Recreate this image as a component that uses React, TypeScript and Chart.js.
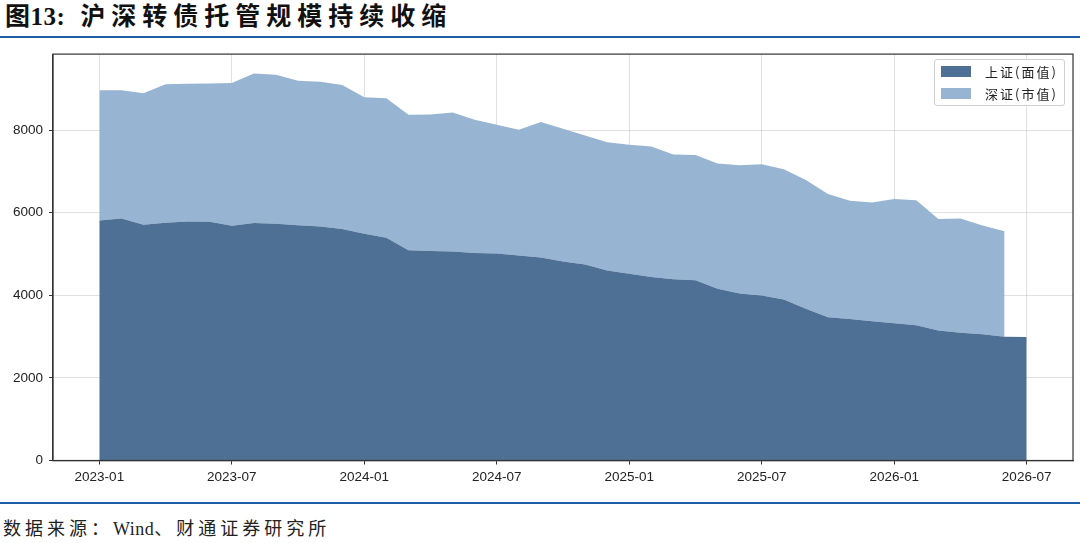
import React, { useEffect, useRef } from 'react';
import { Chart, registerables } from 'chart.js';

Chart.register(...registerables);

// monthly points, 2023-01 .. 2026-07
const months = [
  '2023-01', '2023-02', '2023-03', '2023-04', '2023-05', '2023-06',
  '2023-07', '2023-08', '2023-09', '2023-10', '2023-11', '2023-12',
  '2024-01', '2024-02', '2024-03', '2024-04', '2024-05', '2024-06',
  '2024-07', '2024-08', '2024-09', '2024-10', '2024-11', '2024-12',
  '2025-01', '2025-02', '2025-03', '2025-04', '2025-05', '2025-06',
  '2025-07', '2025-08', '2025-09', '2025-10', '2025-11', '2025-12',
  '2026-01', '2026-02', '2026-03', '2026-04', '2026-05', '2026-06',
  '2026-07',
];

// 上证(面值)
const shFace = [
  5812, 5859, 5706, 5755, 5788, 5779, 5682, 5748, 5730, 5699, 5668, 5607,
  5491, 5395, 5092, 5075, 5058, 5027, 5011, 4962, 4915, 4818, 4745, 4603,
  4523, 4444, 4387, 4363, 4156, 4043, 3996, 3899, 3676, 3468, 3426, 3372,
  3323, 3275, 3148, 3091, 3059, 2995, 2988,
];

// 深证(市值), stacked on top, ends 2026-06
const szMarket = [
  3151, 3104, 3185, 3352, 3336, 3352, 3457, 3623, 3610, 3497, 3504, 3484,
  3305, 3376, 3278, 3304, 3370, 3223, 3119, 3048, 3280, 3217, 3126, 3105,
  3120, 3158, 3024, 3033, 3038, 3104, 3175, 3152, 3115, 2982, 2866, 2872,
  3007, 3024, 2702, 2769, 2633, 2553,
];

const xTickMonths = ['2023-01', '2023-07', '2024-01', '2024-07', '2025-01', '2025-07', '2026-01', '2026-07'];
const yTicks = [0, 2000, 4000, 6000, 8000];

const DARK = '#4d7094';
const LIGHT = '#98b4d3';
const GRID = 'rgba(176,176,176,0.38)';

const framePlugin = {
  id: 'frame',
  afterDraw(chart: any) {
    const { ctx, chartArea: a } = chart;
    ctx.save();
    ctx.strokeStyle = '#333';
    ctx.lineWidth = 1.2;
    ctx.strokeRect(a.left, a.top, a.right - a.left, a.bottom - a.top);
    ctx.restore();
  },
};

const AreaChart: React.FC = () => {
  const canvasRef = useRef<HTMLCanvasElement>(null);

  useEffect(() => {
    if (!canvasRef.current) return;
    const chart = new Chart(canvasRef.current, {
      type: 'line',
      data: {
        datasets: [
          {
            label: '上证(面值)',
            data: shFace.map((v, i) => ({ x: i, y: v })),
            backgroundColor: DARK,
            borderColor: 'transparent',
            borderWidth: 0,
            pointRadius: 0,
            fill: 'origin',
          },
          {
            label: '深证(市值)',
            data: szMarket.map((v, i) => ({ x: i, y: v })),
            backgroundColor: LIGHT,
            borderColor: 'transparent',
            borderWidth: 0,
            pointRadius: 0,
            fill: '-1',
          },
        ],
      },
      options: {
        responsive: true,
        maintainAspectRatio: false,
        animation: false,
        layout: { padding: { top: 10, right: 7, left: 0, bottom: 0 } },
        plugins: { legend: { display: false }, tooltip: { enabled: false } },
        scales: {
          x: {
            type: 'linear',
            min: -2.1,
            max: 44.1,
            z: 1,
            afterBuildTicks: (scale: any) => {
              scale.ticks = xTickMonths.map(m => ({ value: months.indexOf(m) }));
            },
            afterFit: (scale: any) => {
              scale.height = 39.5;
            },
            grid: { color: GRID, tickColor: '#333', tickLength: 4, lineWidth: 1 },
            border: { color: '#333', width: 1.2 },
            ticks: {
              color: '#222',
              padding: 5,
              maxRotation: 0,
              font: { family: 'Liberation Sans', size: 13.5 },
              callback: (v: any) => months[v] ?? '',
            },
          },
          y: {
            stacked: true,
            min: 0,
            max: 9840,
            z: 1,
            afterBuildTicks: (scale: any) => {
              scale.ticks = yTicks.map(v => ({ value: v }));
            },
            afterFit: (scale: any) => {
              scale.width = 53;
            },
            grid: { color: GRID, tickColor: '#333', tickLength: 4, lineWidth: 1 },
            border: { color: '#333', width: 1.2 },
            ticks: {
              color: '#222',
              padding: 6,
              font: { family: 'Liberation Sans', size: 13.5 },
              callback: (v: any) => String(v),
            },
          },
        },
      },
      plugins: [framePlugin],
    });
    return () => chart.destroy();
  }, []);

  return (
    <div style={{ position: 'absolute', left: 0, top: 40, width: 1080, height: 460 }}>
      <canvas ref={canvasRef} />
    </div>
  );
};

const legendItems = [
  { label: '上证(面值)', color: DARK },
  { label: '深证(市值)', color: LIGHT },
];

export default function App() {
  return (
    <div
      style={{
        position: 'fixed',
        left: 0,
        top: 0,
        width: 1080,
        height: 543,
        background: '#fff',
        overflow: 'hidden',
      }}
    >
      <div
        style={{
          position: 'absolute',
          left: 5,
          top: 4,
          fontFamily: '"Liberation Serif", "Noto Sans CJK SC", serif',
          fontWeight: 'bold',
          fontSize: 25,
          lineHeight: '25px',
          color: '#111',
          whiteSpace: 'nowrap',
        }}
      >
        <span style={{ letterSpacing: 0.5 }}>图13:</span>
        <span style={{ marginLeft: 15, letterSpacing: 6 }}>沪深转债托管规模持续收缩</span>
      </div>
      <div style={{ position: 'absolute', left: 0, top: 36, width: 1080, height: 2, background: '#1f5ca8' }} />

      <AreaChart />

      <div
        style={{
          position: 'absolute',
          left: 934,
          top: 59,
          width: 131,
          height: 47,
          boxSizing: 'border-box',
          border: '1px solid #d0d0d0',
          borderRadius: 3,
          background: 'rgba(255,255,255,0.85)',
          fontFamily: '"Noto Sans CJK SC", sans-serif',
          fontSize: 13,
          letterSpacing: 2,
          color: '#222',
        }}
      >
        {legendItems.map((item, i) => (
          <div
            key={item.label}
            style={{ position: 'absolute', left: 6, top: 6 + i * 22, height: 11, display: 'flex', alignItems: 'center' }}
          >
            <span style={{ display: 'inline-block', width: 30, height: 11, background: item.color }} />
            <span style={{ marginLeft: 14, lineHeight: '11px', whiteSpace: 'nowrap' }}>{item.label}</span>
          </div>
        ))}
      </div>

      <div style={{ position: 'absolute', left: 0, top: 502, width: 1080, height: 2, background: '#1f5ca8' }} />
      <div
        style={{
          position: 'absolute',
          left: 3,
          top: 520,
          fontFamily: '"Liberation Serif", "Noto Sans CJK SC", serif',
          fontSize: 18,
          lineHeight: '18px',
          color: '#222',
          whiteSpace: 'nowrap',
        }}
      >
        <span style={{ letterSpacing: 4 }}>数据来源：</span>
        <span style={{ letterSpacing: 0.5 }}>Wind</span>
        <span style={{ letterSpacing: 4 }}>、财通证券研究所</span>
      </div>
    </div>
  );
}
